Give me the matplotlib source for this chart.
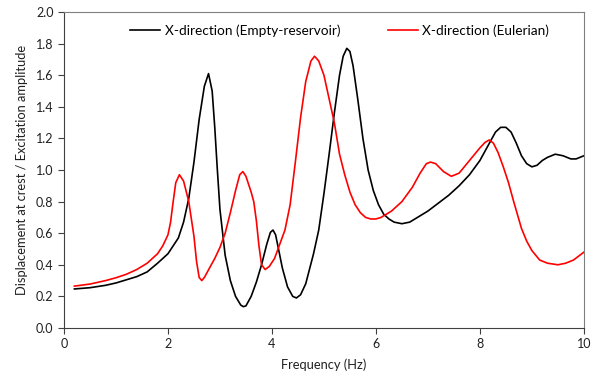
import matplotlib
matplotlib.use("Agg")
import matplotlib.pyplot as plt

# valeurs
freq_empty = [0.2, 0.5, 0.8, 1.0, 1.2, 1.4, 1.6, 1.8, 1.9, 2.0, 2.1, 2.2, 2.3, 2.4, 2.5, 2.6, 2.7,
              2.78, 2.85, 2.9, 2.95, 3.0, 3.1, 3.2, 3.3, 3.4, 3.45, 3.5, 3.6, 3.7, 3.8, 3.9, 3.97,
              4.02, 4.07, 4.12, 4.2, 4.3, 4.4, 4.47, 4.55, 4.65, 4.8, 4.9, 5.0, 5.1, 5.2, 5.3,
              5.37, 5.44, 5.5, 5.56, 5.65, 5.75, 5.85, 5.95, 6.05, 6.15, 6.25, 6.35, 6.5, 6.65,
              6.8, 7.0, 7.2, 7.4, 7.6, 7.8, 8.0, 8.1, 8.2, 8.3, 8.4, 8.5, 8.6, 8.7, 8.8, 8.9, 9.0,
              9.1, 9.2, 9.3, 9.45, 9.6, 9.75, 9.85, 10.0]
amp_empty = [0.247, 0.255, 0.27, 0.285, 0.305, 0.325, 0.355, 0.41, 0.44, 0.47, 0.52, 0.57, 0.67,
             0.82, 1.05, 1.32, 1.53, 1.61, 1.50, 1.27, 1.0, 0.75, 0.46, 0.30, 0.20, 0.145, 0.135,
             0.14, 0.2, 0.29, 0.40, 0.53, 0.605, 0.62, 0.59, 0.51, 0.38, 0.26, 0.2, 0.19, 0.21,
             0.28, 0.47, 0.62, 0.85, 1.1, 1.36, 1.60, 1.72, 1.77, 1.75, 1.66, 1.45, 1.20, 1.00,
             0.87, 0.78, 0.72, 0.69, 0.67, 0.66, 0.67, 0.70, 0.74, 0.79, 0.84, 0.9, 0.97, 1.06,
             1.12, 1.18, 1.24, 1.27, 1.27, 1.24, 1.17, 1.09, 1.04, 1.02, 1.03, 1.06, 1.08, 1.10,
             1.09, 1.07, 1.07, 1.09]

freq_euler = [0.2, 0.5, 0.8, 1.0, 1.2, 1.4, 1.6, 1.8, 1.9, 2.0, 2.05, 2.1, 2.15, 2.22, 2.3, 2.4,
              2.5, 2.55, 2.6, 2.65, 2.7, 2.8, 2.9, 3.0, 3.1, 3.2, 3.3, 3.38, 3.44, 3.5, 3.6, 3.65,
              3.7, 3.75, 3.8, 3.87, 3.95, 4.05, 4.15, 4.25, 4.35, 4.45, 4.55, 4.65, 4.75, 4.82,
              4.9, 5.0, 5.1, 5.2, 5.3, 5.4, 5.5, 5.6, 5.7, 5.8, 5.9, 6.0, 6.1, 6.3, 6.5, 6.7,
              6.85, 6.97, 7.05, 7.15, 7.3, 7.45, 7.6, 7.8, 8.0, 8.1, 8.18, 8.26, 8.35, 8.45, 8.55,
              8.65, 8.8, 8.9, 9.0, 9.15, 9.3, 9.5, 9.65, 9.8, 10.0]
amp_euler = [0.265, 0.278, 0.30, 0.318, 0.34, 0.37, 0.41, 0.47, 0.52, 0.59, 0.67, 0.80, 0.92,
             0.97, 0.93, 0.80, 0.58, 0.42, 0.32, 0.30, 0.32, 0.38, 0.44, 0.51, 0.60, 0.73, 0.87,
             0.97, 0.99, 0.96, 0.86, 0.80, 0.68, 0.52, 0.40, 0.37, 0.39, 0.44, 0.53, 0.62, 0.78,
             1.05, 1.33, 1.56, 1.69, 1.72, 1.69, 1.60, 1.45, 1.30, 1.10, 0.97, 0.86, 0.78, 0.73,
             0.70, 0.69, 0.69, 0.70, 0.74, 0.80, 0.89, 0.98, 1.04, 1.05, 1.04, 0.99, 0.96, 0.98,
             1.06, 1.14, 1.175, 1.19, 1.17, 1.11, 1.02, 0.92, 0.80, 0.63, 0.55, 0.49, 0.43, 0.41,
             0.40, 0.41, 0.43, 0.48]

plt.rcParams['font.family'] = ['Lato', 'DejaVu Sans']
plt.rcParams['font.size'] = 9

fig = plt.figure(figsize=(5.97, 3.82), dpi=100)
ax = fig.add_axes([0.1072, 0.1414, 0.8708, 0.8272])

ax.plot(freq_empty, amp_empty, color='black', lw=1.2, label='X-direction (Empty-reservoir)')
ax.plot(freq_euler, amp_euler, color='#ff0000', lw=1.2, label='X-direction (Eulerian)')

ax.set_xlim(0, 10)
ax.set_ylim(0, 2.0)
ax.set_xticks([0, 2, 4, 6, 8, 10])
ax.set_yticks([0.0, 0.2, 0.4, 0.6, 0.8, 1.0, 1.2, 1.4, 1.6, 1.8, 2.0])
ax.set_yticklabels(['%.1f' % v for v in ax.get_yticks()])
ax.tick_params(direction='out', length=4, width=0.8, color='#404040', labelcolor='#202020')

for s in ['left', 'bottom']:
    ax.spines[s].set_color('#404040')
for s in ['top', 'right']:
    ax.spines[s].set_color('#808080')

ax.set_xlabel('Frequency (Hz)', color='#202020', labelpad=6, fontsize=9.3)
ax.set_ylabel('Displacement at crest / Excitation amplitude', color='#202020', labelpad=6,
              fontsize=9.3)

ax.legend(loc='upper center', ncol=2, frameon=False, handlelength=2.2, handletextpad=0.3,
          columnspacing=3.5, bbox_to_anchor=(0.53, 1.0), fontsize=9.8)

fig.savefig('out.png', dpi=100)
